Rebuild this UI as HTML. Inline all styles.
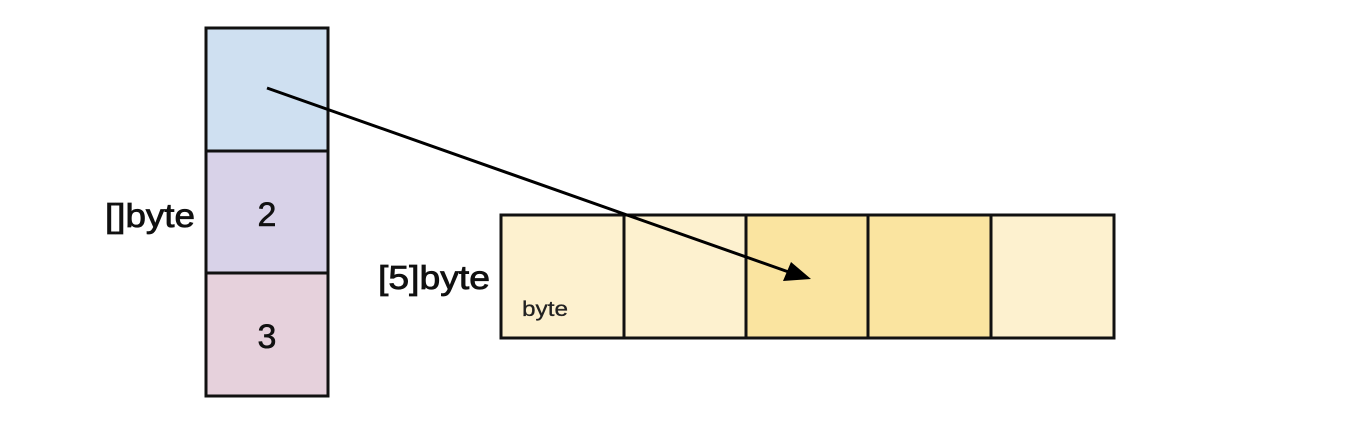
<!DOCTYPE html>
<html><head><meta charset="utf-8"><style>
html,body{margin:0;padding:0;background:#fff;}
svg{display:block;font-family:"Liberation Sans",sans-serif;}
</style></head><body>
<svg width="1366" height="427" viewBox="0 0 1366 427">
<g>
<rect x="206" y="28" width="122" height="123" fill="#cfe0f1" stroke="#111" stroke-width="3"/>
<rect x="206" y="151" width="122" height="122" fill="#d8d2e8" stroke="#111" stroke-width="3"/>
<rect x="206" y="273" width="122" height="123" fill="#e6d1dc" stroke="#111" stroke-width="3"/>
<text x="267" y="226" font-size="34" text-anchor="middle" fill="#111" stroke="#111" stroke-width="0.6">2</text>
<text x="267" y="348" font-size="34" text-anchor="middle" fill="#111" stroke="#111" stroke-width="0.6">3</text>
<text x="105" y="227" font-size="33" textLength="90" lengthAdjust="spacingAndGlyphs" fill="#111" stroke="#111" stroke-width="0.8">[]byte</text>
</g>
<g>
<rect x="501" y="215" width="123" height="123" fill="#fdf1cf" stroke="#111" stroke-width="3"/>
<rect x="624" y="215" width="122" height="123" fill="#fdf1cf" stroke="#111" stroke-width="3"/>
<rect x="746" y="215" width="122" height="123" fill="#fae4a0" stroke="#111" stroke-width="3"/>
<rect x="868" y="215" width="123" height="123" fill="#fae4a0" stroke="#111" stroke-width="3"/>
<rect x="991" y="215" width="123" height="123" fill="#fdf1cf" stroke="#111" stroke-width="3"/>
<text x="378" y="289" font-size="33" textLength="112" lengthAdjust="spacingAndGlyphs" fill="#111" stroke="#111" stroke-width="0.8">[5]byte</text>
<text x="522" y="316" font-size="21" textLength="46" lengthAdjust="spacingAndGlyphs" fill="#222" stroke="#222" stroke-width="0.3">byte</text>
</g>
<line x1="267" y1="88" x2="800" y2="276" stroke="#000" stroke-width="3"/>
<path d="M811,279 L783,281 L791,262 z" fill="#000"/>
</svg>
</body></html>
